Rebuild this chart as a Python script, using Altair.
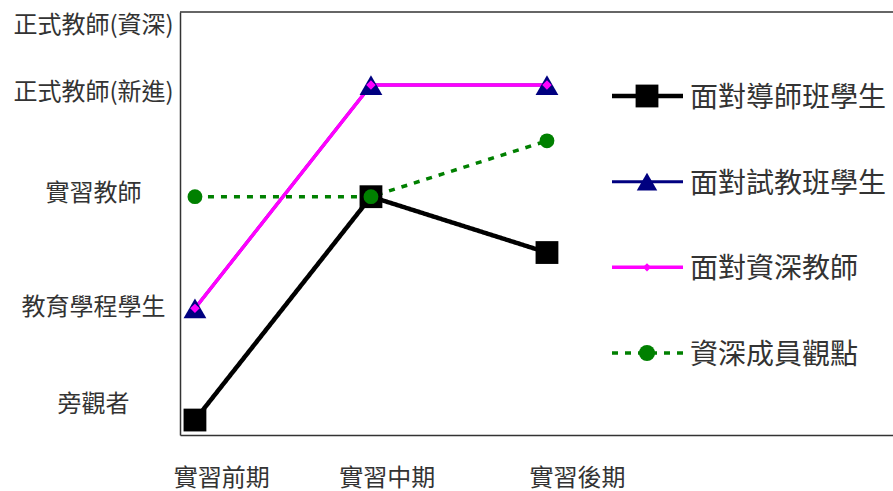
import altair as alt
import pandas as pd

# ---- data ----
stages = ["實習前期", "實習中期", "實習後期"]
stage_x = [1, 2, 3]
levels = ["旁觀者", "教育學程學生", "實習教師", "正式教師(新進)", "正式教師(資深)"]
series = ["面對導師班學生", "面對試教班學生", "面對資深教師", "資深成員觀點"]
vals_tutor_class = [1, 3, 2.5]
vals_trial_class = [2, 4, 4]
vals_senior_teacher = [2, 4, 4]
vals_senior_view = [3, 3, 3.5]
all_vals = [vals_tutor_class, vals_trial_class, vals_senior_teacher, vals_senior_view]

# ---- layout / style ----
FONT = "Noto Sans CJK TC"
TEXT_COLOR = "#333333"
W, H = 713, 423
x_domain = [0.915, 4.966]
y_domain = [0.866, 4.654]
stage_label_pos = [1.15, 2.09, 3.17]
level_label_pos = [1.14, 2.01, 3.03, 3.93, 4.53]
colors = ["#000000", "#000080", "#FF00FF", "#008000"]
widths = [4.5, 3, 3.5, 3.5]
dashes = [[1, 0], [1, 0], [1, 0], [6, 7]]
shapes = ["square", "triangle-up", "diamond", "circle"]
sizes = [520, 520, 90, 220]
leg_sizes = [520, 420, 70, 260]
frame_color = "#333333"


def label_expr(pos, labels):
    e = "''"
    for p, l in zip(reversed(pos), reversed(labels)):
        e = f"abs(datum.value - {p}) < 0.001 ? '{l}' : {e}"
    return e


xs = alt.Scale(domain=x_domain, nice=False, zero=False)
ys = alt.Scale(domain=y_domain, nice=False, zero=False)

x_axis = alt.Axis(values=stage_label_pos, labelExpr=label_expr(stage_label_pos, stages),
                  title=None, grid=False, ticks=False, tickSize=0, labelPadding=43,
                  labelBaseline="middle", labelFlush=False, labelOverlap=False,
                  labelFontSize=24, labelFont=FONT,
                  labelColor=TEXT_COLOR, domainColor=frame_color, domainWidth=1.5)
y_axis = alt.Axis(values=level_label_pos, labelExpr=label_expr(level_label_pos, levels),
                  title=None, grid=False, ticks=False, tickSize=0, labelPadding=87,
                  labelAlign="center", labelBaseline="middle", labelLimit=400,
                  labelOverlap=False, labelFontSize=24, labelFont=FONT, labelColor=TEXT_COLOR,
                  domainColor=frame_color, domainWidth=1.5)

rows = []
for s, vals in zip(series, all_vals):
    for sx, v in zip(stage_x, vals):
        rows.append({"series": s, "stage": sx, "value": v})
df = pd.DataFrame(rows)

layers = []
first = True
for i, s in enumerate(series):
    d = df[df.series == s]
    layers.append(
        alt.Chart(d).mark_line(color=colors[i], strokeWidth=widths[i], strokeDash=dashes[i])
        .encode(x=alt.X("stage:Q", scale=xs, axis=x_axis),
                y=alt.Y("value:Q", scale=ys, axis=y_axis if first else None))
    )
    first = False
for i, s in enumerate(series):
    d = df[df.series == s]
    layers.append(
        alt.Chart(d).mark_point(filled=True, shape=shapes[i], size=sizes[i], color=colors[i], opacity=1)
        .encode(x=alt.X("stage:Q", scale=xs, axis=x_axis),
                y=alt.Y("value:Q", scale=ys, axis=None))
    )

# top border
top = alt.Chart(pd.DataFrame({"a": [0]})).mark_rule(color=frame_color, strokeWidth=1.5).encode(
    x=alt.value(0), x2=alt.value(W), y=alt.value(0))

# manual legend
leg = pd.DataFrame({"series": series})
ly = alt.Y("series:N", scale=alt.Scale(type="point", domain=series, range=[84, 341], padding=0),
           axis=None)
col = alt.Color("series:N", scale=alt.Scale(type="ordinal", domain=series, range=colors), legend=None)
leg_rule = alt.Chart(leg).mark_rule().encode(
    x=alt.value(432), x2=alt.value(503), y=ly, color=col,
    strokeWidth=alt.StrokeWidth("series:N", scale=alt.Scale(type="ordinal", domain=series, range=widths),
                                legend=None),
    strokeDash=alt.StrokeDash("series:N", scale=alt.Scale(type="ordinal", domain=series, range=dashes),
                              legend=None))
leg_pt = alt.Chart(leg).mark_point(filled=True, opacity=1).encode(
    x=alt.value(467), y=ly, color=col,
    shape=alt.Shape("series:N", scale=alt.Scale(type="ordinal", domain=series, range=shapes), legend=None),
    size=alt.Size("series:N", scale=alt.Scale(type="ordinal", domain=series, range=leg_sizes), legend=None))
leg_txt = alt.Chart(leg).mark_text(align="left", baseline="middle", fontSize=28, font=FONT,
                                   color=TEXT_COLOR, dy=3).encode(
    x=alt.value(510), y=ly, text="series:N")

chart = alt.layer(*layers, top, leg_rule, leg_pt, leg_txt).resolve_scale(
    y="independent"
).properties(
    width=W, height=H,
    autosize=alt.AutoSizeParams(type="none"),
    padding={"left": 180, "top": 12, "right": 0, "bottom": 56},
    background="white",
).configure_view(stroke=None)

chart.save("out.html", embed_options={"renderer": "svg", "actions": False})
